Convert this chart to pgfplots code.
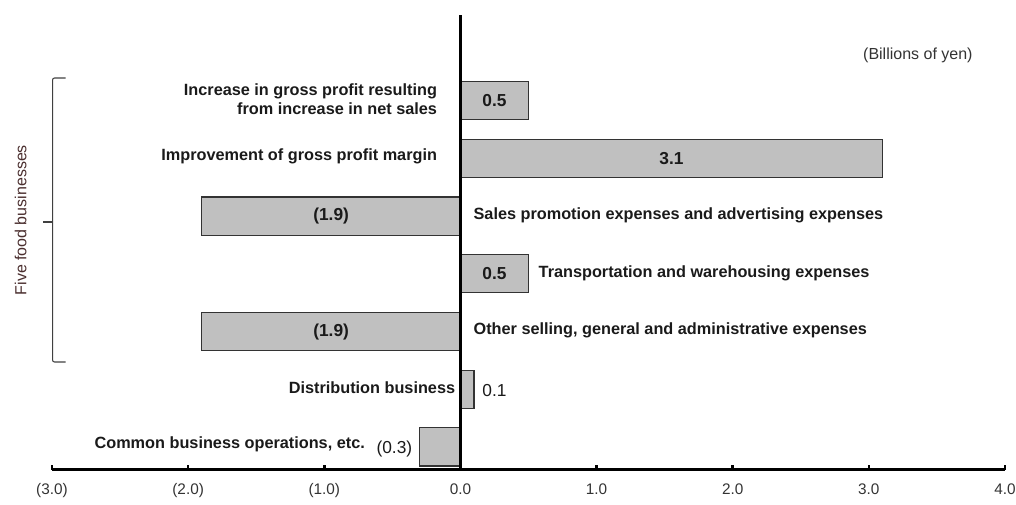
\documentclass[border=0pt]{standalone}
\usepackage{fontspec}
\setmainfont{Liberation Sans}
\usepackage{pgfplots}
\pgfplotsset{compat=1.18}
\definecolor{barfill}{HTML}{C0C0C0}
\definecolor{txt}{HTML}{1A1A1A}
\definecolor{ticktxt}{HTML}{333333}
\definecolor{brk}{HTML}{4A2E2E}
\newcommand\cat{\fontsize{12.2}{14.3}\selectfont\bfseries}
\newcommand\val{\fontsize{13}{15}\selectfont\bfseries}
\newcommand\valr{\fontsize{13}{15}\selectfont}
\begin{document}
\begin{tikzpicture}
\begin{axis}[
  scale only axis,
  width=714.75pt, height=341.25pt,
  xmin=-3, xmax=4, ymin=0.6, ymax=8.486,
  axis x line=bottom, axis y line=none,
  x axis line style={-, line width=2.25pt, black},
  xtick={-3,...,4},
  xticklabels={(3.0),(2.0),(1.0),0.0,1.0,2.0,3.0,4.0},
  tick align=inside, major tick length=3.5pt,
  x tick style={line width=2pt, black},
  xticklabel style={font=\fontsize{11.5}{13}\selectfont, text=ticktxt, text height=8pt, text depth=2.5pt, yshift=-7pt},
  xbar, bar width=0.66,
  clip=false,
]
\addplot[fill=barfill, draw=black!80, line width=0.9pt] coordinates {(0.5,7) (3.1,6) (-1.9,5) (0.5,4) (-1.9,3) (0.1,2) (-0.3,1)};
\coordinate (o) at (rel axis cs:0,0);
\draw[line width=2.25pt] (axis cs:0,0.6) -- (axis cs:0,8.486);
% category labels
\node[anchor=east, align=right, font=\cat, text=txt, inner sep=0pt] at (axis cs:-0.17,7.03) {Increase in gross profit resulting\\from increase in net sales};
\node[anchor=east, font=\cat, text=txt, inner sep=0pt] at (axis cs:-0.17,6.03) {Improvement of gross profit margin};
\node[anchor=west, font=\cat, text=txt, inner sep=0pt] at (axis cs:0.095,5.02) {Sales promotion expenses and advertising expenses};
\node[anchor=west, font=\cat, text=txt, inner sep=0pt] at (axis cs:0.573,4.0) {Transportation and warehousing expenses};
\node[anchor=west, font=\cat, text=txt, inner sep=0pt] at (axis cs:0.095,3.02) {Other selling, general and administrative expenses};
\node[anchor=east, font=\cat, text=txt, inner sep=0pt] at (axis cs:-0.037,2.02) {Distribution business};
\node[anchor=east, font=\cat, text=txt, inner sep=0pt] at (axis cs:-0.70,1.04) {Common business operations, etc.};
% value labels
\node[font=\val, text=txt] at (axis cs:0.25,7) {0.5};
\node[font=\val, text=txt] at (axis cs:1.55,6) {3.1};
\node[font=\val, text=txt] at (axis cs:-0.95,5) {(1.9)};
\node[font=\val, text=txt] at (axis cs:0.25,4) {0.5};
\node[font=\val, text=txt] at (axis cs:-0.95,3) {(1.9)};
\node[font=\valr, text=txt] at (axis cs:0.25,1.97) {0.1};
\node[font=\valr, text=txt] at (axis cs:-0.485,0.97) {(0.3)};
% unit
\node[font=\fontsize{12}{14}\selectfont, text=ticktxt] at (axis cs:3.36,7.79) {(Billions of yen)};
% bracket
\draw[line width=0.8pt, draw=black!75, rounded corners=1.5pt] (axis cs:-2.9,7.394) -- (axis cs:-2.996,7.394) -- (axis cs:-2.996,2.472) -- (axis cs:-2.9,2.472);
\draw[line width=0.8pt, draw=black!75] (axis cs:-2.996,4.898) -- (axis cs:-3.065,4.898);
\node[rotate=90, font=\fontsize{12}{14}\selectfont, text=brk] at (axis cs:-3.23,4.93) {Five food businesses};
\end{axis}
\pgfresetboundingbox
\path (o) ++(-39pt,-26.25pt) rectangle ++(762pt,378.75pt);
\end{tikzpicture}
\end{document}
